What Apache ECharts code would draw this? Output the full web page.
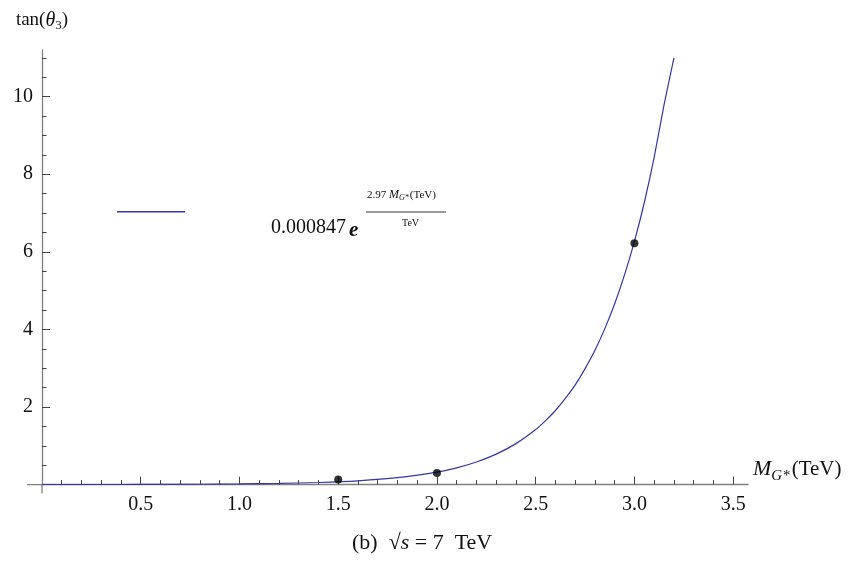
<!DOCTYPE html>
<html><head><meta charset="utf-8">
<script src="https://cdn.jsdelivr.net/npm/echarts@6/dist/echarts.min.js"></script>
<style>html,body{margin:0;padding:0;background:#fff}#c{width:857px;height:563px}</style>
</head><body><div id="c"></div>
<script>
// fitted curve
const curveX = [0, 0.2, 0.4, 0.6, 0.8, 1.0, 1.2, 1.4, 1.6, 1.8, 2.0, 2.1, 2.2, 2.3, 2.4, 2.5, 2.55, 2.6, 2.65, 2.7, 2.75, 2.8, 2.85, 2.9, 2.95, 3.0, 3.05, 3.1, 3.15, 3.2];
const curveY = [0.001, 0.0015, 0.003, 0.005, 0.009, 0.017, 0.03, 0.054, 0.098, 0.178, 0.322, 0.433, 0.583, 0.785, 1.056, 1.42, 1.65, 1.91, 2.22, 2.57, 2.99, 3.46, 4.02, 4.66, 5.41, 6.27, 7.27, 8.44, 9.79, 11.0];
// measured points
const pointX = [1.5, 2.0, 3.0];
const pointY = [0.13, 0.30, 6.22];
// ticks
const xMajor = [0.5, 1.0, 1.5, 2.0, 2.5, 3.0, 3.5];
const xTickLabels = ['0.5', '1.0', '1.5', '2.0', '2.5', '3.0', '3.5'];
const xMinor = [0.1, 0.2, 0.3, 0.4, 0.6, 0.7, 0.8, 0.9, 1.1, 1.2, 1.3, 1.4, 1.6, 1.7, 1.8, 1.9, 2.1, 2.2, 2.3, 2.4, 2.6, 2.7, 2.8, 2.9, 3.1, 3.2, 3.3, 3.4];
const yMajor = [2, 4, 6, 8, 10];
const yTickLabels = ['2', '4', '6', '8', '10'];
const yMinor = [0.5, 1, 1.5, 2.5, 3, 3.5, 4.5, 5, 5.5, 6.5, 7, 7.5, 8.5, 9, 9.5, 10.5, 11];
const seriesName = '0.000847 e^(2.97 M_G*(TeV)/TeV)';

const SERIF = '"Liberation Serif","Times New Roman",serif';
const AXIS_COLOR = '#808080';
const TICK_COLOR = '#444';
const X_MIN = 0, X_MAX = 3.575, Y_MIN = 0, Y_MAX = 11.2;

const chart = echarts.init(document.getElementById('c'), null, {renderer: 'canvas'});

const labelFor = (vals, labels) => v => {
  const i = vals.findIndex(t => Math.abs(t - v) < 1e-6);
  return i >= 0 ? labels[i] : '';
};

const option = {
  animation: false,
  backgroundColor: '#fff',
  grid: {left: 42, right: 857 - 748, top: 50, bottom: 563 - 484.6},
  legend: {
    left: 117, top: 211, padding: 0, itemWidth: 68, itemHeight: 1.5,
    data: [{name: seriesName, icon: 'rect'}],
    formatter: () => ' ',
    textStyle: {fontSize: 1}
  },
  xAxis: [{
    type: 'value', min: X_MIN, max: X_MAX, position: 'bottom',
    axisLine: {show: true, onZero: true, lineStyle: {color: AXIS_COLOR, width: 1.3}},
    axisTick: {show: true, inside: true, length: 8, customValues: xMajor, lineStyle: {color: TICK_COLOR, width: 1}},
    splitLine: {show: false},
    axisLabel: {
      margin: 10, fontFamily: SERIF, fontSize: 20, color: '#111',
      customValues: xMajor, formatter: labelFor(xMajor, xTickLabels)
    },
    name: '{i|M}{s|G*}{n|(TeV)}', nameLocation: 'end', nameGap: 5,
    nameTextStyle: {
      padding: [0, 0, 30, 0], verticalAlign: 'middle',
      rich: {
        i: {fontFamily: SERIF, fontStyle: 'italic', fontSize: 22, color: '#111'},
        s: {fontFamily: SERIF, fontStyle: 'italic', fontSize: 15, color: '#111', verticalAlign: 'bottom', padding: [12, 2, 0, 0]},
        n: {fontFamily: SERIF, fontSize: 21, color: '#111'}
      }
    }
  }, {
    type: 'value', min: X_MIN, max: X_MAX, position: 'bottom',
    axisLine: {show: false},
    axisTick: {show: true, inside: true, length: 4.5, customValues: xMinor, lineStyle: {color: TICK_COLOR, width: 1}},
    axisLabel: {show: false}, splitLine: {show: false}
  }],
  yAxis: [{
    type: 'value', min: Y_MIN, max: Y_MAX, position: 'left',
    axisLine: {show: true, onZero: true, lineStyle: {color: AXIS_COLOR, width: 1.3}},
    axisTick: {show: true, inside: true, length: 8, customValues: yMajor, lineStyle: {color: TICK_COLOR, width: 1}},
    splitLine: {show: false},
    axisLabel: {
      margin: 9, fontFamily: SERIF, fontSize: 20, color: '#111',
      customValues: yMajor, formatter: labelFor(yMajor, yTickLabels)
    },
    name: '{n|tan(}{i|θ}{s|3}{n|)}', nameLocation: 'end', nameGap: 18,
    nameTextStyle: {
      rich: {
        n: {fontFamily: SERIF, fontSize: 19, color: '#111'},
        i: {fontFamily: SERIF, fontStyle: 'italic', fontSize: 20, color: '#111'},
        s: {fontFamily: SERIF, fontSize: 13, color: '#111', verticalAlign: 'bottom', padding: [10, 0, 0, 0]}
      }
    }
  }, {
    type: 'value', min: Y_MIN, max: Y_MAX, position: 'left',
    axisLine: {show: false},
    axisTick: {show: true, inside: true, length: 4.5, customValues: yMinor, lineStyle: {color: TICK_COLOR, width: 1}},
    axisLabel: {show: false}, splitLine: {show: false}
  }],
  series: [
    {
      name: seriesName, type: 'line', xAxisIndex: 0, yAxisIndex: 0,
      showSymbol: false, symbol: 'none', smooth: 0.2,
      data: curveX.map((x, i) => [x, curveY[i]]),
      lineStyle: {color: '#3636a6', width: 1.2}, itemStyle: {color: '#3636a6'},
      clip: true, z: 2
    },
    {
      name: 'points', type: 'scatter', xAxisIndex: 0, yAxisIndex: 0,
      symbol: 'circle', symbolSize: 8,
      data: pointX.map((x, i) => [x, pointY[i]]),
      itemStyle: {color: '#000'}, z: 3
    }
  ],
  graphic: [
    {type: 'text', left: 271, top: 218, style: {text: '0.000847', font: '20px ' + SERIF, fill: '#111'}},
    {type: 'text', left: 349, top: 220, style: {text: 'e', font: 'italic bold 21px ' + SERIF, fill: '#111'}},
    {type: 'text', left: 367, top: 189, style: {
      text: '2.97 {i|M}{s|G*}{n|(TeV)}', font: '11px ' + SERIF, fill: '#111',
      rich: {
        i: {fontFamily: SERIF, fontStyle: 'italic', fontSize: 12, fill: '#111'},
        s: {fontFamily: SERIF, fontStyle: 'italic', fontSize: 8, fill: '#111', verticalAlign: 'bottom', padding: [6, 1, 0, 0]},
        n: {fontFamily: SERIF, fontSize: 11, fill: '#111'}
      }}},
    {type: 'line', shape: {x1: 366, y1: 212, x2: 446, y2: 212}, style: {stroke: '#333', lineWidth: 1}},
    {type: 'text', left: 402, top: 218, style: {text: 'TeV', font: '10px ' + SERIF, fill: '#111'}},
    {type: 'text', left: 352, top: 532, style: {
      text: '(b)  √{s|s} = 7  TeV', font: '22px ' + SERIF, fill: '#111',
      rich: {s: {fontFamily: SERIF, fontStyle: 'italic', fontSize: 22, fill: '#111'}}
    }}
  ]
};
chart.setOption(option);

// short Mathematica-style axis overhangs past the origin
const o = chart.convertToPixel({xAxisIndex: 0, yAxisIndex: 0}, [0, 0]);
chart.setOption({graphic: option.graphic.concat([
  {type: 'line', shape: {x1: o[0] - 15, y1: o[1], x2: o[0], y2: o[1]}, style: {stroke: AXIS_COLOR, lineWidth: 1.3}, z: 1},
  {type: 'line', shape: {x1: o[0], y1: o[1], x2: o[0], y2: o[1] + 9}, style: {stroke: AXIS_COLOR, lineWidth: 1.3}, z: 1}
])}, {replaceMerge: ['graphic']});
</script>
</body></html>
